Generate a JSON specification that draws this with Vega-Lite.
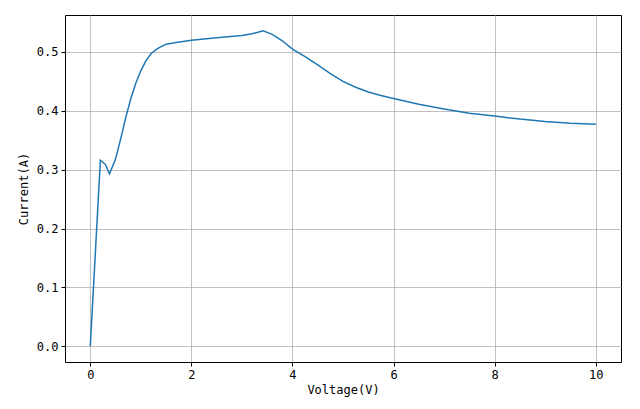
{
  "$schema": "https://vega.github.io/schema/vega-lite/v6.json",
  "autosize": "none",
  "padding": {"left": 65, "top": 15, "right": 19, "bottom": 47},
  "width": 556,
  "height": 347,
  "background": "white",
  "config": {
    "view": {"stroke": "black", "strokeWidth": 1},
    "font": "DejaVu Sans Mono",
    "axis": {
      "labelFont": "DejaVu Sans Mono",
      "titleFont": "DejaVu Sans Mono",
      "labelFontSize": 12,
      "titleFontSize": 12,
      "titleFontWeight": "normal",
      "labelColor": "black",
      "titleColor": "black",
      "tickColor": "black",
      "domain": false,
      "tickSize": 4,
      "labelPadding": 3,
      "gridColor": "#b0b0b0",
      "gridWidth": 0.8,
      "gridOpacity": 1
    }
  },
  "data": {
    "values": [
      {"v": 0, "i": 0},
      {"v": 0.2, "i": 0.316},
      {"v": 0.3, "i": 0.309},
      {"v": 0.38, "i": 0.293},
      {"v": 0.5, "i": 0.318},
      {"v": 0.6, "i": 0.352},
      {"v": 0.7, "i": 0.388},
      {"v": 0.8, "i": 0.420},
      {"v": 0.9, "i": 0.447},
      {"v": 1.0, "i": 0.468},
      {"v": 1.1, "i": 0.485},
      {"v": 1.2, "i": 0.497},
      {"v": 1.3, "i": 0.504},
      {"v": 1.4, "i": 0.509},
      {"v": 1.5, "i": 0.513},
      {"v": 1.7, "i": 0.516},
      {"v": 2.0, "i": 0.52},
      {"v": 2.5, "i": 0.524},
      {"v": 3.0, "i": 0.528},
      {"v": 3.2, "i": 0.531},
      {"v": 3.3, "i": 0.533},
      {"v": 3.42, "i": 0.536},
      {"v": 3.6, "i": 0.530},
      {"v": 3.8, "i": 0.519},
      {"v": 4.0, "i": 0.505},
      {"v": 4.25, "i": 0.492},
      {"v": 4.5, "i": 0.478},
      {"v": 4.75, "i": 0.463},
      {"v": 5.0, "i": 0.450},
      {"v": 5.25, "i": 0.440},
      {"v": 5.5, "i": 0.432},
      {"v": 5.75, "i": 0.426},
      {"v": 6.0, "i": 0.421},
      {"v": 6.5, "i": 0.411},
      {"v": 7.0, "i": 0.403},
      {"v": 7.5, "i": 0.396},
      {"v": 8.0, "i": 0.391},
      {"v": 8.5, "i": 0.386},
      {"v": 9.0, "i": 0.382},
      {"v": 9.5, "i": 0.379},
      {"v": 10.0, "i": 0.377}
    ]
  },
  "mark": {"type": "line", "color": "#1f77b4", "strokeWidth": 1.5, "clip": true},
  "encoding": {
    "x": {
      "field": "v",
      "type": "quantitative",
      "scale": {"domain": [-0.5, 10.5], "nice": false, "zero": false},
      "axis": {"values": [0, 2, 4, 6, 8, 10], "format": "d", "title": "Voltage(V)", "titlePadding": 4}
    },
    "y": {
      "field": "i",
      "type": "quantitative",
      "scale": {"domain": [-0.0268, 0.5628], "nice": false, "zero": false},
      "axis": {"values": [0, 0.1, 0.2, 0.3, 0.4, 0.5], "format": ".1f", "title": "Current(A)", "titlePadding": 6}
    }
  }
}
